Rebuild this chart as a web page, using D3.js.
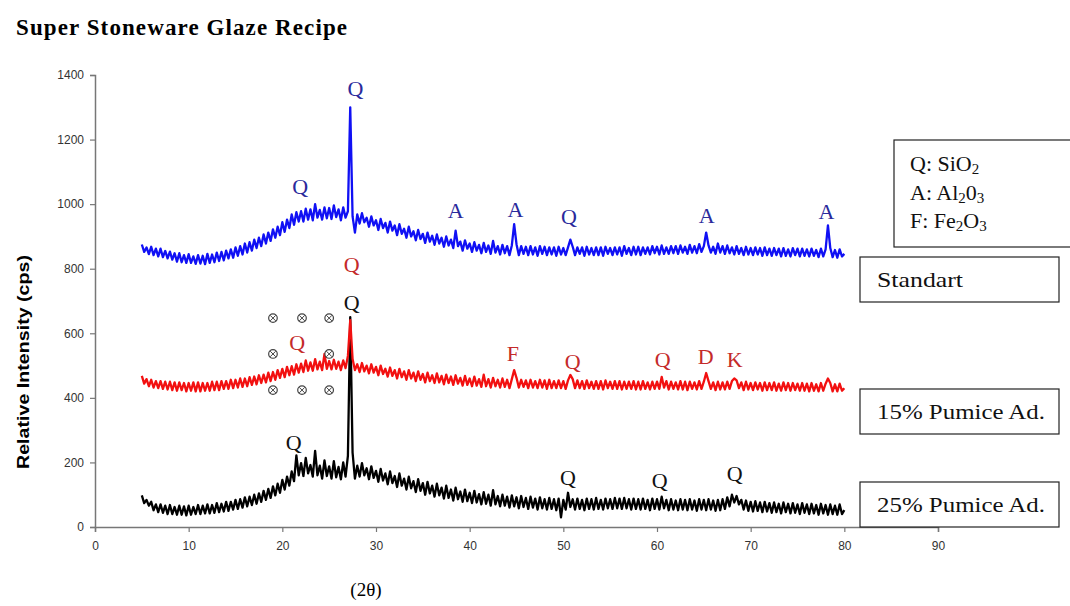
<!DOCTYPE html>
<html>
<head>
<meta charset="utf-8">
<script src="https://cdn.jsdelivr.net/npm/d3@7"></script>
<style>
  body { margin: 0; background: #fff; }
  svg { display: block; }
  .tick text { font-family: "Liberation Sans", Arial, sans-serif; font-size: 12px; fill: #333; }
  .serif { font-family: "Liberation Serif", "Times New Roman", serif; }
</style>
</head>
<body>
<svg id="chart" width="1070" height="606"></svg>
<script>
// scan 5..80 deg 2theta, step 0.25
const twoTheta = d3.range(0, 301).map(i => 5 + i * 0.25);

const standart = [
  875, 852, 866, 845, 868, 842, 862, 838, 862, 836, 855, 832, 853, 828, 848, 822, 848, 820, 842, 818,
  845, 818, 838, 815, 842, 816, 840, 814, 846, 818, 844, 820, 850, 824, 852, 826, 856, 832, 860, 834,
  866, 840, 870, 844, 878, 850, 882, 856, 890, 864, 896, 870, 906, 878, 912, 886, 922, 896, 930, 904,
  944, 914, 952, 926, 968, 936, 975, 946, 978, 946, 986, 952, 984, 950, 1000, 958, 982, 952, 990, 956,
  988, 954, 996, 960, 984, 950, 990, 958, 978, 1300, 962, 912, 968, 940, 972, 944, 958, 930, 962, 934,
  950, 920, 954, 926, 942, 912, 946, 918, 934, 904, 938, 908, 924, 896, 930, 900, 916, 888, 920, 892,
  908, 880, 912, 884, 902, 874, 906, 878, 896, 868, 900, 872, 890, 864, 918, 870, 884, 856, 888, 862,
  878, 852, 882, 856, 874, 848, 880, 852, 872, 846, 886, 850, 870, 844, 874, 848, 870, 842, 872, 938,
  876, 842, 870, 846, 868, 842, 870, 844, 866, 840, 870, 846, 868, 842, 866, 844, 866, 840, 868, 844,
  864, 842, 866, 890, 868, 842, 866, 846, 866, 840, 868, 844, 864, 842, 866, 842, 866, 840, 868, 846,
  864, 842, 866, 844, 866, 840, 870, 846, 864, 842, 868, 844, 868, 842, 866, 846, 866, 844, 870, 848,
  868, 844, 872, 846, 866, 846, 870, 848, 870, 846, 872, 850, 868, 846, 874, 850, 870, 848, 876, 852,
  870, 912, 872, 850, 868, 846, 878, 850, 870, 846, 872, 848, 866, 844, 870, 846, 864, 842, 868, 844,
  864, 842, 866, 844, 864, 840, 866, 842, 862, 840, 864, 842, 862, 838, 864, 840, 860, 838, 864, 842,
  862, 838, 862, 840, 860, 838, 862, 840, 858, 836, 862, 838, 860, 934, 864, 836, 858, 834, 860, 838,
  846
];

const pumice15 = [
  468, 444, 458, 436, 456, 432, 452, 430, 452, 428, 450, 426, 450, 424, 448, 422, 448, 424, 446, 420,
  446, 422, 448, 420, 448, 420, 446, 422, 446, 422, 450, 424, 450, 424, 452, 428, 452, 428, 456, 430,
  456, 432, 460, 434, 460, 436, 464, 440, 466, 442, 470, 446, 472, 448, 478, 452, 480, 456, 486, 462,
  490, 464, 496, 470, 498, 472, 504, 478, 506, 480, 516, 484, 510, 484, 520, 488, 512, 486, 536, 490,
  514, 488, 518, 490, 512, 486, 516, 492, 530, 641, 520, 486, 504, 480, 508, 482, 500, 476, 504, 478,
  496, 470, 500, 474, 490, 466, 494, 468, 486, 460, 490, 464, 482, 456, 486, 460, 478, 452, 482, 456,
  474, 448, 478, 452, 470, 446, 476, 448, 468, 442, 472, 446, 466, 440, 470, 444, 462, 438, 468, 440,
  460, 436, 466, 438, 458, 434, 472, 436, 458, 432, 462, 436, 456, 432, 460, 434, 456, 430, 458, 486,
  462, 432, 456, 434, 454, 430, 456, 432, 452, 430, 456, 432, 454, 428, 456, 430, 452, 430, 454, 430,
  452, 428, 454, 471, 458, 430, 454, 430, 452, 428, 454, 430, 450, 428, 452, 428, 452, 426, 454, 430,
  450, 428, 452, 428, 452, 426, 450, 428, 450, 428, 452, 426, 450, 426, 452, 428, 448, 426, 450, 428,
  450, 428, 465, 432, 452, 426, 450, 428, 448, 426, 452, 426, 450, 424, 450, 428, 448, 426, 452, 428,
  450, 477, 452, 428, 448, 424, 450, 426, 448, 426, 450, 428, 452, 460, 454, 430, 448, 424, 450, 426,
  446, 424, 448, 426, 446, 422, 448, 424, 446, 424, 448, 422, 444, 422, 448, 424, 446, 422, 446, 424,
  444, 422, 446, 422, 444, 420, 446, 422, 442, 420, 446, 422, 444, 460, 446, 420, 442, 420, 444, 422,
  430
];

const pumice25 = [
  98, 74, 84, 66, 78, 52, 70, 46, 70, 44, 66, 40, 68, 40, 62, 38, 66, 38, 64, 36,
  66, 38, 62, 40, 68, 40, 66, 42, 70, 42, 68, 44, 74, 46, 72, 48, 78, 50, 78, 54,
  84, 56, 86, 60, 92, 64, 94, 68, 100, 72, 104, 78, 112, 84, 118, 90, 126, 98, 134, 106,
  146, 116, 156, 128, 172, 142, 222, 160, 198, 158, 214, 166, 192, 156, 236, 160, 190, 150, 206, 158,
  188, 150, 204, 154, 186, 148, 200, 156, 220, 650, 230, 150, 190, 156, 198, 160, 182, 148, 188, 152,
  174, 140, 180, 144, 166, 132, 172, 136, 158, 124, 166, 128, 150, 116, 156, 120, 142, 108, 148, 112,
  136, 100, 140, 104, 128, 94, 134, 98, 122, 88, 128, 90, 116, 82, 122, 86, 110, 78, 116, 80,
  106, 74, 112, 76, 102, 70, 108, 72, 100, 66, 114, 70, 96, 64, 100, 66, 94, 60, 98, 64,
  92, 58, 96, 62, 90, 56, 94, 60, 88, 54, 92, 58, 86, 54, 90, 56, 86, 52, 88, 30,
  84, 54, 106, 62, 86, 54, 88, 56, 84, 52, 88, 56, 86, 54, 90, 56, 84, 54, 88, 58,
  86, 56, 90, 58, 88, 56, 90, 58, 86, 54, 88, 56, 86, 54, 88, 56, 84, 52, 88, 56,
  86, 54, 94, 58, 84, 52, 86, 54, 82, 52, 86, 54, 84, 52, 86, 54, 82, 50, 86, 54,
  84, 52, 86, 54, 82, 50, 84, 52, 86, 56, 92, 64, 100, 76, 96, 70, 84, 54, 82, 50,
  78, 48, 80, 50, 76, 46, 78, 48, 74, 44, 76, 46, 72, 42, 76, 46, 72, 42, 74, 44,
  70, 40, 74, 44, 70, 40, 72, 42, 68, 38, 72, 42, 68, 38, 70, 40, 66, 38, 70, 40,
  52
];

const xTicks = d3.range(0, 91, 10);
const yTicks = d3.range(0, 1401, 200);

// phase labels, placed in data units (2theta, cps)
const blueLabels = [[21.9, 1056, "Q"], [27.8, 1359, "Q"], [38.5, 982, "A"], [44.9, 985, "A"],
  [50.6, 963, "Q"], [65.3, 966, "A"], [78.1, 979, "A"]];
const redLabels = [[27.4, 815, "Q"], [21.6, 573, "Q"], [44.6, 539, "F"], [51.0, 514, "Q"],
  [60.6, 520, "Q"], [65.2, 530, "D"], [68.3, 520, "K"]];
const blackLabels = [[27.4, 697, "Q"], [21.2, 263, "Q"], [50.5, 155, "Q"], [60.3, 146, "Q"], [68.3, 167, "Q"]];
const crossMarks = [[19.0, 647], [22.1, 647], [25.0, 647], [19.0, 536], [25.0, 536],
  [19.0, 424], [22.1, 424], [25.0, 424]];

const svg = d3.select("#chart");
const margin = { left: 95, right: 132, top: 75, bottom: 79 };
const W = 1070, H = 606;

const x = d3.scaleLinear().domain([0, 90]).range([margin.left, W - margin.right]);
const y = d3.scaleLinear().domain([0, 1400]).range([H - margin.bottom, margin.top]);

// axes
const xAxis = svg.append("g")
  .attr("transform", `translate(0,${y(0)})`)
  .call(d3.axisBottom(x).tickValues(xTicks).tickSize(5).tickPadding(9).tickFormat(d3.format("d")));
const yAxis = svg.append("g")
  .attr("transform", `translate(${x(0)},0)`)
  .call(d3.axisLeft(y).tickValues(yTicks).tickSize(5).tickPadding(6).tickFormat(d3.format("d")));
[xAxis, yAxis].forEach(a => {
  a.select(".domain").attr("stroke", "#777").attr("stroke-width", 1.5);
  a.selectAll(".tick line").attr("stroke", "#777").attr("stroke-width", 1.2);
});

// traces
const line = d3.line().x((d, i) => x(twoTheta[i])).y(d => y(d));
const series = [
  { values: standart, color: "#1010f4" },
  { values: pumice15, color: "#f21010" },
  { values: pumice25, color: "#000000" }
];
// black first so the red hump covers the black peak
[series[2], series[1], series[0]].forEach(s => {
  svg.append("path")
    .datum(s.values)
    .attr("d", line)
    .attr("fill", "none")
    .attr("stroke", s.color)
    .attr("stroke-width", 2.3)
    .attr("stroke-linejoin", "round");
});

// cross markers
crossMarks.forEach(([cx, cy]) => {
  const g = svg.append("g").attr("transform", `translate(${x(cx)},${y(cy)})`);
  g.append("circle").attr("r", 4.3).attr("fill", "#fff").attr("stroke", "#444").attr("stroke-width", 1.2);
  g.append("path").attr("d", "M-2.8,-2.8L2.8,2.8M-2.8,2.8L2.8,-2.8").attr("stroke", "#444").attr("stroke-width", 1);
});

// peak labels
const labelSets = [[blueLabels, "#2a2a9c"], [redLabels, "#c42a2a"], [blackLabels, "#111"]];
labelSets.forEach(([labels, color]) => {
  svg.append("g").selectAll("text")
    .data(labels)
    .join("text")
    .attr("class", "serif")
    .attr("x", d => x(d[0]))
    .attr("y", d => y(d[1]))
    .attr("dy", "0.35em")
    .attr("text-anchor", "middle")
    .attr("font-size", 22)
    .attr("fill", color)
    .text(d => d[2]);
});

// title
svg.append("text")
  .attr("class", "serif")
  .attr("x", 16).attr("y", 35)
  .attr("font-size", 23).attr("font-weight", "bold")
  .attr("textLength", 331).attr("lengthAdjust", "spacing")
  .text("Super Stoneware Glaze Recipe");

// axis titles
svg.append("text")
  .attr("transform", "translate(29,362) rotate(-90)")
  .attr("text-anchor", "middle")
  .attr("font-family", "Liberation Sans, Arial, sans-serif")
  .attr("font-size", 17).attr("font-weight", "bold")
  .attr("textLength", 214).attr("lengthAdjust", "spacingAndGlyphs")
  .text("Relative Intensity (cps)");

svg.append("text")
  .attr("class", "serif")
  .attr("x", 366).attr("y", 596)
  .attr("text-anchor", "middle")
  .attr("font-size", 19)
  .text("(2θ)");

// phase key box
svg.append("rect").attr("x", 894).attr("y", 140).attr("width", 190).attr("height", 107)
  .attr("fill", "#fff").attr("stroke", "#222").attr("stroke-width", 1.2);
const keyRows = [["Q: SiO", "2"], ["A: Al", "2", "0", "3"], ["F: Fe", "2", "O", "3"]];
keyRows.forEach((row, i) => {
  const t = svg.append("text").attr("class", "serif").attr("x", 910).attr("y", 171 + i * 28.5)
    .attr("font-size", 22).attr("fill", "#111");
  row.forEach((part, j) => {
    const sub = j % 2 === 1;
    t.append("tspan").attr("font-size", sub ? 15 : 22).attr("dy", sub ? 3 : (j > 0 ? -3 : 0)).text(part);
  });
});

// series name boxes
const nameBoxes = [["Standart", 257, 86], ["15% Pumice Ad.", 389, 168], ["25% Pumice Ad.", 482, 168]];
nameBoxes.forEach(([name, top, len]) => {
  svg.append("rect").attr("x", 860).attr("y", top).attr("width", 199).attr("height", 45)
    .attr("fill", "#fff").attr("stroke", "#222").attr("stroke-width", 1.2);
  svg.append("text").attr("class", "serif").attr("x", 877).attr("y", top + 30)
    .attr("font-size", 21).attr("fill", "#111")
    .attr("textLength", len).attr("lengthAdjust", "spacingAndGlyphs")
    .text(name);
});
</script>
</body>
</html>
